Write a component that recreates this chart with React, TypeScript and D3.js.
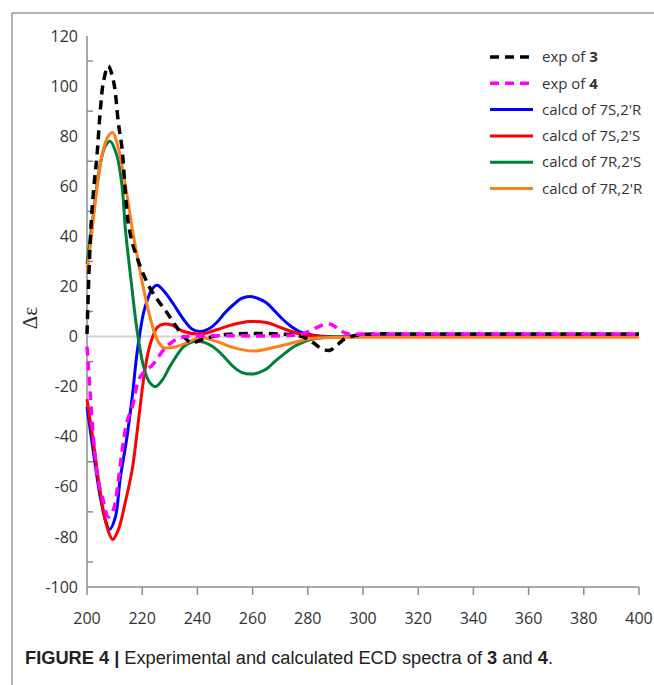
import { useEffect, useRef } from "react"
import * as d3 from "d3"

// wavelength (nm) / delta-epsilon pairs
const exp3Nm = [200, 200.7, 201.5, 202.5, 203.6, 204.8, 206, 207.7, 209.6, 211.4, 212.7, 214, 215, 216.5, 218, 220, 223, 226, 229, 232, 235, 238, 242, 250, 260, 270, 278, 282, 285, 288, 291, 294, 300, 320, 400]
const exp3Val = [1, 25, 45, 60, 72, 90, 102, 108, 102, 85, 75, 56, 45, 37, 32, 26, 19, 14, 9.5, 4.5, 0, -2.5, -1, 0.8, 1.2, 1, 0, -2.5, -4.8, -5.5, -3, -0.5, 0.8, 1, 1]

const exp4Nm = [200, 201, 202.3, 204, 206, 207.7, 209.6, 211.4, 212.8, 214.5, 216.4, 219.3, 224, 228, 232.5, 236, 250, 270, 278, 281, 284, 287, 289, 291, 294, 300, 320, 400]
const exp4Val = [-4, -20, -40, -57, -66, -72, -69, -57, -45, -34, -28, -16, -11, -5, -1, 0, 0.3, 0.3, 1, 2.4, 4, 5, 4.6, 3, 1.2, 1, 1, 1]

const s2rNm = [200, 202.3, 204.8, 206.6, 208.2, 210.3, 212, 214.5, 216.4, 218.2, 220.5, 222, 223.6, 225.4, 228, 231, 235, 238, 241, 244, 247, 250, 253, 256, 259, 262, 265, 268, 271, 274, 277, 280, 283, 288, 300, 400]
const s2rVal = [-28, -46, -64, -73, -77, -72, -57, -40, -24, -6, 9.5, 15, 19, 20.5, 18, 13.5, 6.8, 3, 2, 3, 5.6, 9.5, 12.7, 15.2, 16, 15.2, 13.5, 10.2, 6.8, 4, 2, 0.9, 0.3, 0, 0, 0]

const s2sNm = [200, 202.3, 204.8, 207.1, 209.3, 211.4, 213.9, 216.4, 218.6, 220.5, 222, 223.5, 225.4, 228, 231, 235, 241, 247, 253, 259, 265, 272, 278, 285, 300, 400]
const s2sVal = [-25, -42, -62, -75.5, -81, -77, -66, -53, -34, -17, -7, -1, 3.6, 5, 4.5, 2, 1, 2.7, 4.8, 6, 5.6, 2.8, 0.8, 0, 0, 0]

const r2sNm = [200, 202.3, 204.8, 206.6, 208.4, 210.9, 212.7, 213.9, 216, 218.2, 220.5, 222.5, 224.8, 227.5, 230, 235, 238, 241, 244, 247, 250, 253, 256, 259.5, 262, 265, 268, 272, 275, 278, 281, 285, 290, 300, 400]
const r2sVal = [29, 49, 69, 76, 78, 72, 60, 43, 22, 2, -12, -18, -20, -17, -12, -4, -2.2, -2, -3, -5.2, -8.5, -12, -14.3, -15, -14.5, -13, -10, -6.4, -4, -2.4, -1.2, -0.5, 0, 0, 0]

const r2rNm = [200, 201.8, 204.2, 206, 207.7, 209.3, 211.4, 213.2, 215, 216.4, 218.2, 220.5, 223, 225.4, 227.7, 232.5, 237, 241, 247, 253, 260, 267.5, 275, 281, 290, 300, 400]
const r2rVal = [25, 42, 64, 75, 80, 81.5, 75, 65, 53, 43, 32, 19, 7, -1.2, -4.4, -4, -2, -0.4, -2, -4.4, -5.8, -4.4, -2.4, -0.8, -0.3, -0.3, -0.3]

const xTicks = [200, 220, 240, 260, 280, 300, 320, 340, 360, 380, 400]
const yTicks = [-100, -80, -60, -40, -20, 0, 20, 40, 60, 80, 100, 120]
const yMinorTicks = [-90, -70, -50, -30, -10, 10, 30, 50, 70, 90, 110]

const series = [
  { label: "calcd of 7S,2'R", bold: "", nm: s2rNm, val: s2rVal, color: "#0000ff", dash: null },
  { label: "calcd of 7S,2'S", bold: "", nm: s2sNm, val: s2sVal, color: "#ff0000", dash: null },
  { label: "calcd of 7R,2'S", bold: "", nm: r2sNm, val: r2sVal, color: "#00803a", dash: null },
  { label: "calcd of 7R,2'R", bold: "", nm: r2rNm, val: r2rVal, color: "#ff7f17", dash: null },
  { label: "exp of ", bold: "3", nm: exp3Nm, val: exp3Val, color: "#000000", dash: "9,6" },
  { label: "exp of ", bold: "4", nm: exp4Nm, val: exp4Val, color: "#ff00ff", dash: "9,6" },
]
const legendOrder = [4, 5, 0, 1, 2, 3]

export default function App() {
  const svgRef = useRef<SVGSVGElement>(null)

  useEffect(() => {
    if (!svgRef.current) return
    const svg = d3.select(svgRef.current)
    svg.selectAll("*").remove()

    const x = d3.scaleLinear().domain([200, 400]).range([87, 639])
    const y = d3.scaleLinear().domain([-100, 120]).range([587, 36])
    const tickFont = "'Open Sans', 'Liberation Sans', sans-serif"

    // outer frame (left and top edges only)
    svg.append("line").attr("x1", 12).attr("x2", 12).attr("y1", 13).attr("y2", 685)
      .attr("stroke", "#999").attr("stroke-width", 1.5)
    svg.append("line").attr("x1", 12).attr("x2", 654).attr("y1", 13).attr("y2", 13)
      .attr("stroke", "#999").attr("stroke-width", 1.5)

    // zero line
    svg.append("line").attr("x1", x(200)).attr("x2", x(400)).attr("y1", y(0)).attr("y2", y(0))
      .attr("stroke", "#d4d4d4").attr("stroke-width", 2)

    // axes
    const axisColor = "#8c8c8c"
    svg.append("line").attr("x1", x(200)).attr("x2", x(200)).attr("y1", y(120)).attr("y2", y(-100))
      .attr("stroke", axisColor).attr("stroke-width", 1.5)
    svg.append("line").attr("x1", x(200)).attr("x2", x(400)).attr("y1", y(-100)).attr("y2", y(-100))
      .attr("stroke", axisColor).attr("stroke-width", 1.5)

    svg.selectAll(".xtick").data(xTicks).enter().append("line")
      .attr("x1", (d) => x(d)).attr("x2", (d) => x(d))
      .attr("y1", y(-100)).attr("y2", y(-100) + 8)
      .attr("stroke", axisColor).attr("stroke-width", 1.5)
    svg.selectAll(".ytick").data(yMinorTicks).enter().append("line")
      .attr("x1", x(200)).attr("x2", x(200) + 6)
      .attr("y1", (d) => y(d)).attr("y2", (d) => y(d))
      .attr("stroke", axisColor).attr("stroke-width", 1.5)

    svg.selectAll(".xlab").data(xTicks).enter().append("text")
      .attr("x", (d) => x(d)).attr("y", y(-100) + 37)
      .attr("text-anchor", "middle").attr("fill", "#333")
      .style("font-family", tickFont).style("font-size", "16px")
      .text((d) => d)
    svg.selectAll(".ylab").data(yTicks).enter().append("text")
      .attr("x", 78).attr("y", (d) => y(d)).attr("dy", "0.35em")
      .attr("text-anchor", "end").attr("fill", "#333")
      .style("font-family", tickFont).style("font-size", "16px")
      .text((d) => d)

    // y axis title
    svg.append("text")
      .attr("transform", "translate(37,318) rotate(-90)")
      .attr("text-anchor", "middle").attr("fill", "#333")
      .style("font-family", "'Liberation Serif', 'DejaVu Serif', serif").style("font-size", "21px")
      .text("Δε")

    // curves
    const line = d3.line<[number, number]>()
      .x((d) => x(d[0])).y((d) => y(d[1]))
      .curve(d3.curveCatmullRom.alpha(0.5))

    series.forEach((s) => {
      const pts = s.nm.map((n, i) => [n, s.val[i]] as [number, number])
      svg.append("path")
        .attr("d", line(pts))
        .attr("fill", "none")
        .attr("stroke", s.color)
        .attr("stroke-width", s.dash ? 3.5 : 3)
        .attr("stroke-dasharray", s.dash)
    })

    // legend
    const lg = svg.append("g")
    legendOrder.forEach((idx, i) => {
      const s = series[idx]
      const ly = 57 + i * 26.3
      lg.append("line").attr("x1", 490).attr("x2", 533).attr("y1", ly).attr("y2", ly)
        .attr("stroke", s.color).attr("stroke-width", s.dash ? 3.5 : 3)
        .attr("stroke-dasharray", s.dash)
      const t = lg.append("text").attr("x", 542).attr("y", ly).attr("dy", "0.35em")
        .attr("fill", "#333")
        .style("font-family", tickFont).style("font-size", "15px")
      t.append("tspan").text(s.label)
      if (s.bold) t.append("tspan").style("font-weight", "bold").text(s.bold)
    })

    // caption
    const cap = svg.append("text").attr("x", 25).attr("y", 664)
      .attr("textLength", 528).attr("lengthAdjust", "spacingAndGlyphs")
      .attr("fill", "#222")
      .style("font-family", "'Liberation Sans Narrow', 'Liberation Sans', Arial, sans-serif")
      .style("font-size", "18px")
    cap.append("tspan").style("font-weight", "bold").text("FIGURE 4 | ")
    cap.append("tspan").text("Experimental and calculated ECD spectra of ")
    cap.append("tspan").style("font-weight", "bold").text("3")
    cap.append("tspan").text(" and ")
    cap.append("tspan").style("font-weight", "bold").text("4")
    cap.append("tspan").text(".")
  }, [])

  return (
    <svg
      ref={svgRef}
      width={654}
      height={685}
      style={{ position: "absolute", left: 0, top: 0, background: "#fff" }}
    />
  )
}
